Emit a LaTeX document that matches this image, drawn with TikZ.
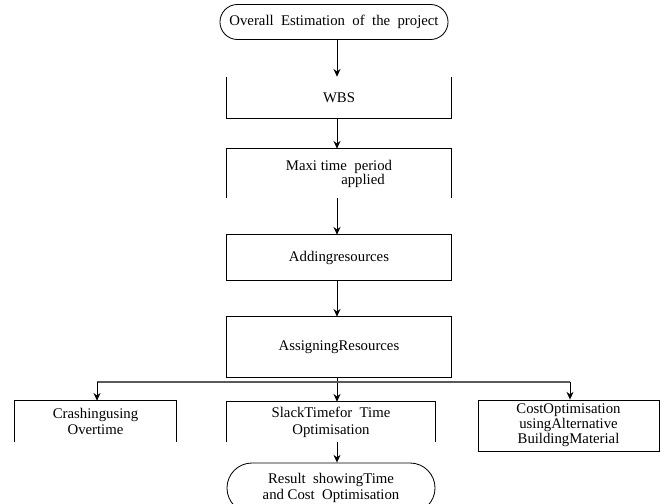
\documentclass[tikz,border=0pt]{standalone}
\usepackage{fontspec}
\setmainfont{Liberation Serif}
\usetikzlibrary{shapes.misc,arrows.meta}
\tikzset{
  txt/.style={inner sep=0pt, align=center, font=\fontsize{10.5}{12}\selectfont},
  tight/.style={font=\fontsize{10.5}{9.5}\selectfont},
  term/.style={txt, draw, rounded rectangle, line width=0.6pt},
  link/.style={-{Stealth[length=5.5pt,width=5pt]}, line width=0.7pt},
}
\begin{document}
\begin{tikzpicture}[x=0.025cm,y=-0.025cm]
    \useasboundingbox (0,0) rectangle (667,504);
    \clip (0,0) rectangle (667,504);
    \node[term, minimum width=5.7cm, minimum height=0.875cm] (estim) at (334,22) {Overall\ \ Estimation\ \ of\ \ the\ \ project};
    \node[txt, minimum width=5.6cm, minimum height=1.025cm] (wbs) at (339,97.5) {WBS};
    \node[txt, font=\fontsize{10.5}{10}\selectfont, minimum width=5.6cm, minimum height=1.225cm] (maxi) at (339,173.5) {Maxi\ time\ \ period\\ \hspace*{1.2cm}applied};
    \node[txt, minimum width=5.6cm, minimum height=1.125cm] (adding) at (339,257.5) {Addingresources};
    \node[txt, minimum width=5.6cm, minimum height=1.5cm] (assign) at (339,347) {AssigningResources};
    \coordinate (split) at (337,382);
    \node[txt, font=\fontsize{10.5}{11}\selectfont, minimum width=4.025cm, minimum height=1.025cm] (crash) at (95.5,421.5) {Crashingusing\\Overtime};
    \node[txt, minimum width=5.2cm, minimum height=1cm] (slack) at (331,422) {SlackTimefor\ \ Time\\Optimisation};
    \node[txt, tight, draw, line width=0.6pt, minimum width=4.525cm, minimum height=1.275cm] (cost) at (568.5,425.5) {CostOptimisation\\usingAlternative\\BuildingMaterial};
    \node[term, minimum width=5.2cm, minimum height=1.25cm] (result) at (331,488) {Result\ \ showingTime\\and\ Cost\ \ Optimisation};

%   open boxes
    \draw[line width=0.6pt] (wbs.north west) -- (wbs.south west) -- (wbs.south east) -- (wbs.north east);
    \draw[line width=0.6pt] (maxi.south west) -- (maxi.north west) -- (maxi.north east) -- (maxi.south east);
    \draw[line width=0.6pt] (adding.south west) rectangle (adding.north east);
    \draw[line width=0.6pt] (assign.south west) rectangle (assign.north east);
    \draw[line width=0.6pt] (crash.south west) -- (crash.north west) -- (crash.north east) -- (crash.south east);
    \draw[line width=0.6pt] (slack.south west) -- (slack.north west) -- (slack.north east) -- (slack.south east);

    \draw[link] (estim.south -| split) -- (wbs.north -| split);
    \draw[link] (wbs.south -| split) -- (maxi.north -| split);
    \draw[link] (maxi.south -| split) -- (adding.north -| split);
    \draw[link] (adding.south -| split) -- (assign.north -| split);
    \draw[link] (assign.south -| split) -- (slack.north -| split);
    \draw[gray!70!black, line width=0.8pt] (split -| 97,0) -- (split -| 570,0);
    \draw[link] (split -| 97,0) -- (crash.north -| 97,0);
    \draw[link] (split -| 570,0) -- (cost.north -| 570,0);
    \draw[link] (slack.south -| split) -- (result.north -| split);
\end{tikzpicture}
\end{document}
